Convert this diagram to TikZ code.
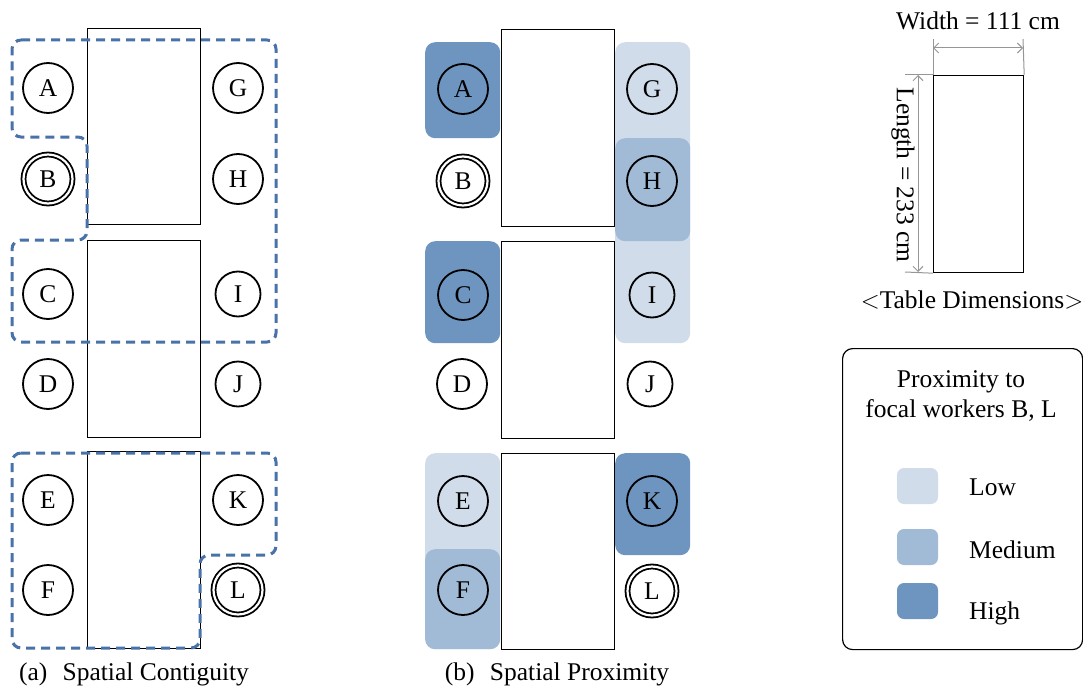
\documentclass[tikz,border=0pt]{standalone}
\usepackage{fontspec}
\setmainfont{Liberation Serif}
\usetikzlibrary{arrows.meta}
\definecolor{dashblue}{RGB}{72,114,168}
\definecolor{phigh}{RGB}{110,149,192}
\definecolor{pmed}{RGB}{161,186,214}
\definecolor{plow}{RGB}{208,220,234}
\definecolor{dimgray}{RGB}{150,150,150}
\begin{document}
\begin{tikzpicture}[x=1pt,y=-1pt,
  font=\fontsize{25.5}{30}\selectfont,
  worker/.style={circle,draw,line width=1.8pt,minimum size=50pt,inner sep=0pt},
  smallworker/.style={worker,minimum size=45pt},
  focal/.style={circle,draw,line width=1.8pt,double,double distance=2.2pt,minimum size=49pt,inner sep=0pt},
  tbl/.style={draw,line width=1.2pt,inner sep=0pt,anchor=north west,minimum width=113pt},
  group/.style={draw=dashblue,line width=3pt,dash pattern=on 9pt off 6pt,rounded corners=9pt},
  zone/.style={rounded corners=10pt,inner sep=0pt,anchor=north west,minimum width=75pt},
  swatch/.style={rounded corners=7pt,inner sep=0pt,minimum width=41pt,minimum height=36pt},
  dimline/.style={draw=dimgray,line width=1pt},
  lbl/.style={inner sep=0pt},
]
\useasboundingbox (0,0) rectangle (1083,690);

% ---------------- (a) Spatial Contiguity ----------------
\node[tbl,minimum height=196pt] (a1) at (87,28) {};
\node[tbl,minimum height=197pt] (a2) at (87,240) {};
\node[tbl,minimum height=197pt] (a3) at (87,451) {};

\node[worker] (aA) at (48,88) {A};
\node[focal]  (aB) at (48,179) {B};
\node[worker] (aC) at (48,294) {C};
\node[worker] (aD) at (48,384) {D};
\node[worker] (aE) at (48,500) {E};
\node[worker] (aF) at (48,590) {F};
\node[worker] (aG) at (238,88) {G};
\node[worker] (aH) at (238,179) {H};
\node[smallworker] (aI) at (238,294) {I};
\node[smallworker] (aJ) at (238,384) {J};
\node[worker] (aK) at (238,500) {K};
\node[focal]  (aL) at (238,590) {L};

\draw[group] (12,40) -- (276,40) -- (276,342) -- (12,342) -- (12,240)
  -- (87,240) -- (87,137) -- (12,137) -- cycle;
\draw[group] (12,453) -- (276,453) -- (276,555) -- (200,555) -- (200,648)
  -- (12,648) -- cycle;

\node[lbl] (capa) at (134,674) {(a)\hspace{0.6em}Spatial Contiguity};

% ---------------- (b) Spatial Proximity ----------------
\node[zone,fill=plow,minimum height=301pt] (zG) at (615,42) {};
\node[zone,fill=pmed,minimum height=103pt] (zH) at (615,138) {};
\node[zone,fill=phigh,minimum height=96pt] (zA) at (425,42) {};
\node[zone,fill=phigh,minimum height=102pt] (zC) at (425,241) {};
\node[zone,fill=plow,minimum height=196pt] (zE) at (425,453) {};
\node[zone,fill=pmed,minimum height=100pt] (zF) at (425,549) {};
\node[zone,fill=phigh,minimum height=102pt] (zK) at (615,453) {};

\node[tbl,fill=white,minimum height=197pt] (b1) at (501,29) {};
\node[tbl,fill=white,minimum height=197pt] (b2) at (501,241) {};
\node[tbl,fill=white,minimum height=196pt] (b3) at (501,453) {};

\node[worker] (bA) at (463,89) {A};
\node[focal]  (bB) at (463,181) {B};
\node[worker] (bC) at (463,295) {C};
\node[worker] (bD) at (462,384) {D};
\node[worker] (bE) at (463,501) {E};
\node[worker] (bF) at (463,590) {F};
\node[worker] (bG) at (652,89) {G};
\node[worker] (bH) at (652,181) {H};
\node[smallworker] (bI) at (652,295) {I};
\node[smallworker] (bJ) at (650,384) {J};
\node[worker] (bK) at (652,501) {K};
\node[focal]  (bL) at (652,591) {L};

\node[lbl] (capb) at (557,674) {(b)\hspace{0.6em}Spatial Proximity};

% ---------------- Table dimensions ----------------
\node[draw,line width=1.2pt,inner sep=0pt,anchor=north west,minimum width=90pt,minimum height=197pt] (dt) at (933,75) {};
\coordinate (wl) at (933,48);
\coordinate (wr) at (1023,48);
\coordinate (wlt) at (933,39);
\coordinate (wrt) at (1023,39);
\coordinate (lt) at (918,75);
\coordinate (lb) at (918,272);
\coordinate (ltl) at (905,75);
\coordinate (lbl) at (905,272);
\draw[dimline] (wlt) -- (dt.north west);
\draw[dimline] (wrt) -- (dt.north east);
\draw[dimline] (ltl) -- (dt.north west);
\draw[dimline] (lbl) -- (dt.south west);
\draw[dimline,{Straight Barb[length=5pt,width=10pt]}-{Straight Barb[length=5pt,width=10pt]}] (wl) -- (wr);
\draw[dimline,{Straight Barb[length=5pt,width=10pt]}-{Straight Barb[length=5pt,width=10pt]}] (lt) -- (lb);
\node[lbl] (wtxt) at (978,21) {Width = 111 cm};
\node[lbl,rotate=-90] (ltxt) at (903,175) {Length = 233 cm};
\node[lbl] (dimcap) at (972,300) {$<$Table Dimensions$>$};

% ---------------- Legend ----------------
\node[draw,line width=1.2pt,rounded corners=10pt,anchor=north west,minimum width=240pt,minimum height=301pt,inner sep=0pt] (legend) at (842,348) {};
\node[lbl,align=center] (legtitle) at (961,396) {Proximity to\\focal workers B, L};
\node[swatch,fill=plow]  (sl) at (917.5,486) {};
\node[swatch,fill=pmed]  (sm) at (917.5,547) {};
\node[swatch,fill=phigh] (sh) at (917.5,601) {};
\node[lbl,anchor=west] (tl) at (969,487) {Low};
\node[lbl,anchor=west] (tm) at (969,550) {Medium};
\node[lbl,anchor=west] (th) at (969,613) {High};
\end{tikzpicture}
\end{document}
